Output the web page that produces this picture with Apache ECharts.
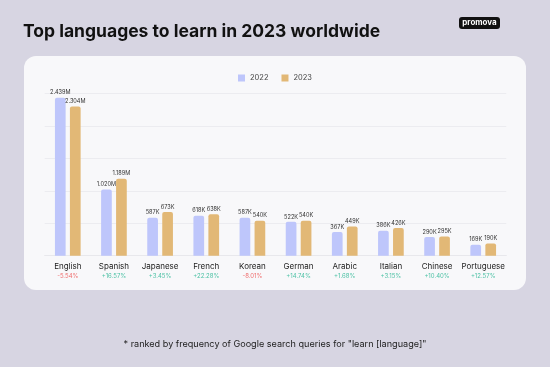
<!DOCTYPE html>
<html><head><meta charset="utf-8">
<script src="https://cdn.jsdelivr.net/npm/echarts@6/dist/echarts.min.js"></script>
<style>html,body{margin:0;padding:0;background:#d7d5e2;}#c{width:550px;height:367px;}</style>
</head><body><div id="c"></div>
<script>
const categories = ['English','Spanish','Japanese','French','Korean','German','Arabic','Italian','Chinese','Portuguese'];
const values2022 = [2439, 1020, 587, 618, 587, 522, 367, 386, 290, 169];
const values2023 = [2304, 1189, 673, 638, 540, 540, 449, 426, 295, 190];
const changes = ['-5.54%','+16.57%','+3.45%','+22.28%','-8.01%','+14.74%','+1.68%','+3.15%','+10.40%','+12.57%'];

const fmt = v => v >= 1000 ? (v/1000).toFixed(3) + 'M' : v + 'K';
const FONT = 'Inter';
const chart = echarts.init(document.getElementById('c'), null, {renderer:'canvas'});
chart.setOption({
  backgroundColor: '#d7d5e2',
  textStyle: {fontFamily: FONT},
  graphic: [
    {type:'rect', z:-10, shape:{x:24, y:56, width:502, height:234, r:12}, style:{fill:'#f8f8fa'}},
    {type:'group', left:459, top:17, children:[
      {type:'rect', shape:{x:0, y:0, width:41, height:12, r:3}, style:{fill:'#111'}},
      {type:'text', x:20.5, y:6, style:{text:'promova', fill:'#fff', font:'bold 8px ' + FONT, align:'center', verticalAlign:'middle'}}
    ]}
  ],
  title: [
    {text:'Top languages to learn in 2023 worldwide', left:18, top:18,
     textStyle:{fontFamily:FONT, fontWeight:'bold', fontSize:17.5, color:'#111'}},
    {text:'* ranked by frequency of Google search queries for "learn [language]"', left:'center', top:335,
     textStyle:{fontFamily:FONT, fontWeight:'normal', fontSize:9.1, color:'#222'}}
  ],
  legend: {
    top: 69, left: 'center', itemWidth: 7, itemHeight: 7, itemGap: 13,
    icon: 'rect',
    textStyle: {fontSize: 7.5, color: '#444', fontFamily: FONT}
  },
  grid: {left: 44.7, width: 461.6, top: 93.7, height: 162, containLabel: false},
  xAxis: {
    type: 'category', data: categories,
    axisLine: {lineStyle: {color: '#e8e8ec'}},
    axisTick: {show: false},
    axisLabel: {
      interval: 0, margin: 6,
      formatter: (val, i) => '{n|' + val + '}\n' + (changes[i][0] === '-' ? '{r|' : '{g|') + changes[i] + '}',
      rich: {
        n: {fontSize: 8, color: '#222', fontFamily: FONT, lineHeight: 10},
        r: {fontSize: 6, color: '#ef6f6f', fontFamily: FONT, lineHeight: 10},
        g: {fontSize: 6, color: '#4fc2a6', fontFamily: FONT, lineHeight: 10}
      }
    }
  },
  yAxis: {
    type: 'value', min: 0, max: 2500, interval: 500,
    axisLabel: {show: false}, axisLine: {show: false}, axisTick: {show: false},
    splitLine: {lineStyle: {color: '#ececf0'}}
  },
  series: [
    {name: '2022', type: 'bar', data: values2022, barWidth: 10.7, barGap: '40%',
     itemStyle: {color: '#bec6fb', borderRadius: [2,2,0,0]},
     label: {show: true, position: 'top', distance: 2, fontSize: 5.6, color: '#333', fontFamily: FONT, formatter: p => fmt(p.value)}},
    {name: '2023', type: 'bar', data: values2023, barWidth: 10.7,
     itemStyle: {color: '#e2b876', borderRadius: [2,2,0,0]},
     label: {show: true, position: 'top', distance: 2, fontSize: 5.6, color: '#333', fontFamily: FONT, formatter: p => fmt(p.value)}}
  ]
});
</script></body></html>
